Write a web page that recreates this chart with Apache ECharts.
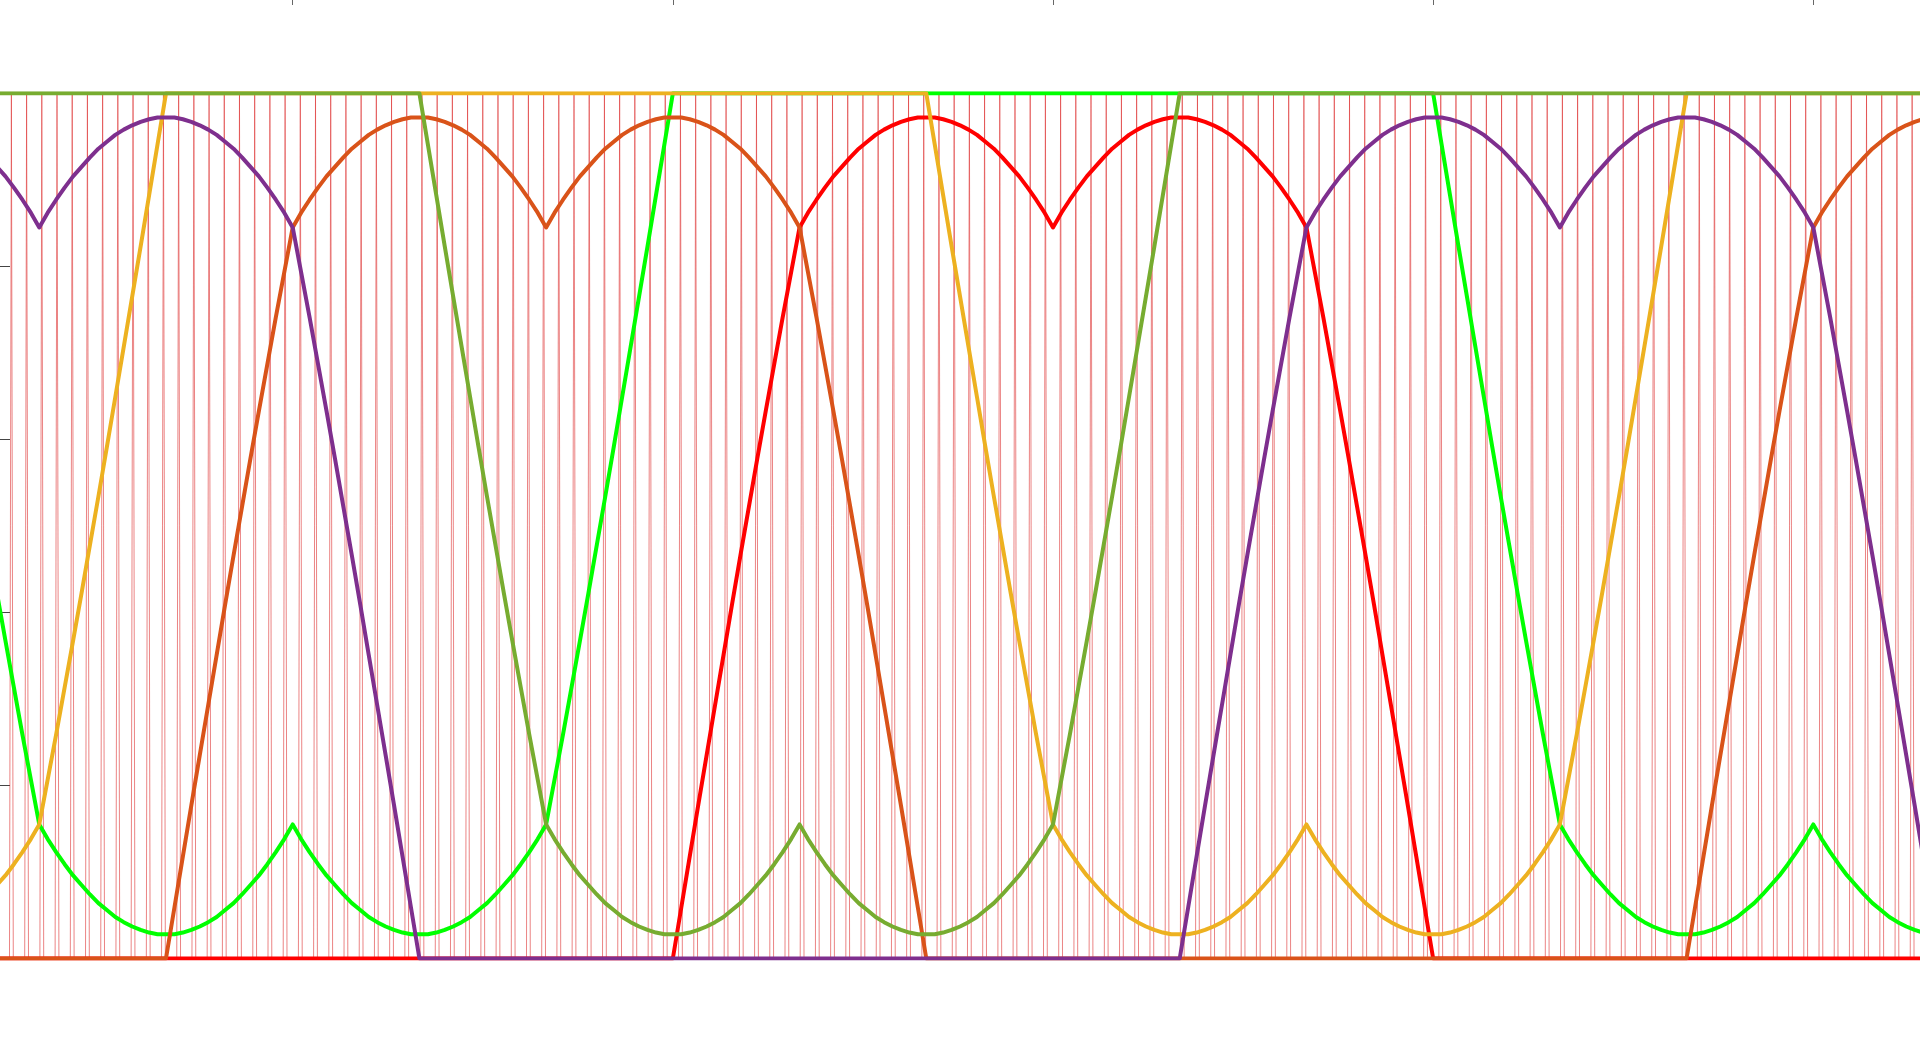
<!DOCTYPE html>
<html><head><meta charset="utf-8">
<script src="https://cdn.jsdelivr.net/npm/echarts@6/dist/echarts.min.js"></script>
<style>html,body{margin:0;padding:0;background:#fff;overflow:hidden}#c{width:1920px;height:1038px}</style>
</head><body><div id="c"></div>
<script>
// time axis in ms (50 Hz fundamental -> 20 ms period), duty values 0..1
const xTickValues = [0, 5, 10, 15, 20, 25, 30];
const yTickValues = [0, 0.2, 0.4, 0.6, 0.8, 1];
const periodMs = 20;
const stepMs = periodMs / 180;         // segment arrays are sampled every 2 electrical degrees

// read segments (2-degree steps)
// leaving the clamp level 0 and climbing to the sector-boundary value (0..30 deg)
const riseVals = [0, 0.059, 0.118, 0.177, 0.235, 0.293, 0.351, 0.409, 0.466, 0.522, 0.578, 0.633, 0.687, 0.741, 0.793, 0.845];
// upper double-hump arc over one sector (V -> peak -> V)
const upperArcVals = [0.845, 0.862, 0.877, 0.891, 0.904, 0.915, 0.926, 0.936, 0.944, 0.952, 0.958, 0.963, 0.967, 0.970, 0.972, 0.972,
                      0.972, 0.970, 0.967, 0.963, 0.958, 0.952, 0.944, 0.936, 0.926, 0.915, 0.904, 0.891, 0.877, 0.862, 0.845];
// leaving the clamp level 1 and dropping to the sector-boundary value (0..30 deg)
const dropVals = [1, 0.941, 0.882, 0.823, 0.765, 0.707, 0.649, 0.591, 0.534, 0.478, 0.422, 0.367, 0.313, 0.259, 0.207, 0.155];
// lower arc over one sector (V -> trough -> V)
const lowerArcVals = [0.155, 0.138, 0.123, 0.109, 0.096, 0.085, 0.074, 0.064, 0.056, 0.048, 0.042, 0.037, 0.033, 0.030, 0.028, 0.028,
                      0.028, 0.030, 0.033, 0.037, 0.042, 0.048, 0.056, 0.064, 0.074, 0.085, 0.096, 0.109, 0.123, 0.138, 0.155];
const clampLow = 0, clampHigh = 1;

// curve names, which kind they are, and where (ms) they leave their clamp level
const curveNames  = ['red', 'green', 'orange', 'yellow', 'purple', 'olive'];
const curveKinds  = ['bottom', 'top', 'bottom', 'top', 'bottom', 'top'];
const curveStartMs = [10, 20, 10 / 3, 40 / 3, 50 / 3, 20 / 3];
const curveColors = ['#FF0000', '#00FF00', '#D95319', '#EDB120', '#7E2F8E', '#77AC30'];

// carrier: one 0.2 ms period read as [offset ms, value]
const carrierPeriodMs = 0.2;
const carrierShape = [[0.075, 0], [0.1, 1], [0.125, 0]];
const carrierRangeMs = [-0.2, 30.2];

function periodShape(kind) {
  const up = kind === 'bottom' ? riseVals : dropVals;
  const arc = kind === 'bottom' ? upperArcVals : lowerArcVals;
  const flat = kind === 'bottom' ? clampLow : clampHigh;
  const s = [];
  s.push(...up.slice(0, up.length - 1));
  s.push(...arc.slice(0, arc.length - 1));
  s.push(...arc.slice(0, arc.length - 1));
  s.push(...up.slice(1).reverse());
  while (s.length < 180) s.push(flat);
  return s;
}
function buildCurve(kind, start) {
  const shape = periodShape(kind);
  const pts = [];
  let p = Math.floor((-1 - start) / periodMs);
  while (true) {
    for (let i = 0; i < shape.length; i++) {
      const t = start + p * periodMs + i * stepMs;
      if (t < -1) continue;
      pts.push([t, shape[i]]);
      if (t > 31) return pts;
    }
    p++;
  }
}
function buildCarrier() {
  const pts = [];
  const n = Math.round((carrierRangeMs[1] - carrierRangeMs[0]) / carrierPeriodMs);
  for (let k = 0; k <= n; k++) {
    for (const [dt, v] of carrierShape) pts.push([carrierRangeMs[0] + k * carrierPeriodMs + dt, v]);
  }
  return pts;
}

const series = [{
  type: 'line', data: buildCarrier(), symbol: 'none', silent: true,
  lineStyle: { color: 'rgba(222,50,50,0.6)', width: 1 }, z: 1
}];
curveNames.forEach((name, i) => {
  series.push({
    name, type: 'line', symbol: 'none', silent: true,
    data: buildCurve(curveKinds[i], curveStartMs[i]),
    lineStyle: { color: curveColors[i], width: 4, join: 'round', cap: 'butt' }, z: 2 + i
  });
});

const pxPerMs = 76.03;
const x5 = 292.7;
const gridLeft = x5 - 5 * pxPerMs;
const gridRight = 1920 - (gridLeft + 30 * pxPerMs);
const gridTop = 93.3, gridBottom = 1038 - 958.5;

const chart = echarts.init(document.getElementById('c'), null, { renderer: 'canvas' });
chart.setOption({
  animation: false,
  backgroundColor: '#ffffff',
  grid: { left: gridLeft, right: gridRight, top: gridTop, bottom: gridBottom, containLabel: false, outerBoundsMode: 'none' },
  xAxis: {
    type: 'value', position: 'top', min: xTickValues[0], max: xTickValues[xTickValues.length - 1], interval: 5,
    offset: gridTop,
    axisLine: { show: false, onZero: false },
    axisTick: { show: true, inside: true, length: 5, lineStyle: { color: '#666', width: 1 } },
    axisLabel: { show: false }, splitLine: { show: false }
  },
  yAxis: {
    type: 'value', min: yTickValues[0], max: yTickValues[yTickValues.length - 1], interval: 0.2,
    offset: gridLeft,
    axisLine: { show: false, onZero: false },
    axisTick: { show: true, inside: true, length: 10, lineStyle: { color: '#444', width: 1 } },
    axisLabel: { show: false }, splitLine: { show: false }
  },
  series
});
</script></body></html>
